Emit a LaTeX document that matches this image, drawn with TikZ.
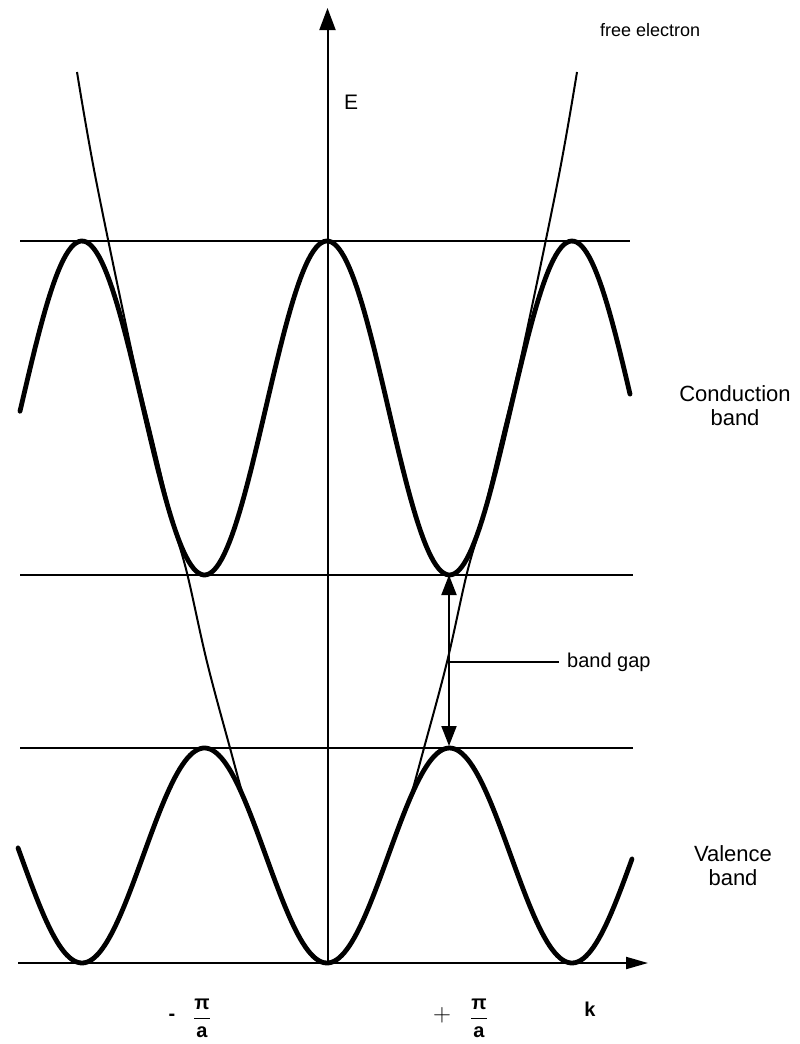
\documentclass[tikz,border=0pt]{standalone}
\usepackage{fontspec}
\setmainfont{Liberation Sans}
\usetikzlibrary{arrows.meta}
\begin{document}
\begin{tikzpicture}[x=1pt,y=-1pt,
  band/.style={line width=4.8pt, line join=round, line cap=round},
  rule/.style={line width=2pt},
  freeline/.style={line width=2pt},
  lbl/.style={inner sep=0pt, font=\fontsize{20}{22}\selectfont},
  axislbl/.style={inner sep=0pt, font=\bfseries\fontsize{20}{22}\selectfont}]
\useasboundingbox (0,0) rectangle (800,1044);
\fill[white] (0,0) rectangle (800,1044);

% axes
\coordinate (O) at (327.5,963);
\coordinate (Etip) at (327.5,8);
\coordinate (Kstart) at (18,963);
\coordinate (Ktip) at (648,963);
\draw[rule, -{Triangle[length=22pt,width=16pt]}] (O) -- (Etip);
\draw[rule, -{Triangle[length=22pt,width=12pt]}] (Kstart) -- (Ktip);

% band edge lines
\coordinate (A1) at (20,241);  \coordinate (B1) at (630,241);
\coordinate (A2) at (20,575);  \coordinate (B2) at (633,575);
\coordinate (A3) at (20,748);  \coordinate (B3) at (633,748);
\draw[rule] (A1) -- (B1);
\draw[rule] (A2) -- (B2);
\draw[rule] (A3) -- (B3);

% conduction band
\draw[band] plot[domain=20:630, samples=240] (\x, {408-167*cos(1.469388*(\x-327))});
% valence band
\draw[band] plot[domain=18:632, samples=240] (\x, {855.5+107.5*cos(1.469388*(\x-327))});

% free electron curve
\draw[freeline] plot[smooth, tension=0.6] coordinates {
  (77,72) (96,180) (132,353) (152,437) (172,520) (187,573) (207,662) (230,748) (244.5,800) (254.5,825)};
\draw[freeline] plot[smooth, tension=0.6] coordinates {
  (577,72) (558,180) (522,353) (502,437) (482,520) (467,573) (447,662) (424,748) (409.5,800) (399.5,825)};

% band gap marker
\coordinate (g1) at (449,575);
\coordinate (g2) at (449,746);
\coordinate (gm) at (449,662);
\draw[rule, {Triangle[length=20pt,width=15pt]}-{Triangle[length=20pt,width=15pt]}] (g1) -- (g2);
\node[lbl, anchor=west] (gaplbl) at (567,662) {band gap};
\draw[rule, shorten >=8pt] (gm) -- (gm -| gaplbl.west);

% labels
\node[lbl, font=\fontsize{21}{22}\selectfont] (Elbl) at (351,102) {E};
\node[lbl, anchor=west, font=\fontsize{18}{20}\selectfont] (freelbl) at (600,30) {free electron};
\node[lbl, align=center, font=\fontsize{22}{24}\selectfont] (cbl) at (735,406) {Conduction\\band};
\node[lbl, align=center, font=\fontsize{22}{24}\selectfont] (vbl) at (733,866) {Valence\\band};
\node[axislbl] (mlbl) at (172,1017) {-};
\node[axislbl] (mfrac) at (202,1018) {$\displaystyle\frac{\textbf{π}}{\textbf{a}}$};
\node[axislbl, font=\fontsize{26}{28}\selectfont] (plbl) at (442,1015) {$+$};
\node[axislbl] (pfrac) at (479,1018) {$\displaystyle\frac{\textbf{π}}{\textbf{a}}$};
\node[axislbl] (klbl) at (590,1009) {k};
\end{tikzpicture}
\end{document}
